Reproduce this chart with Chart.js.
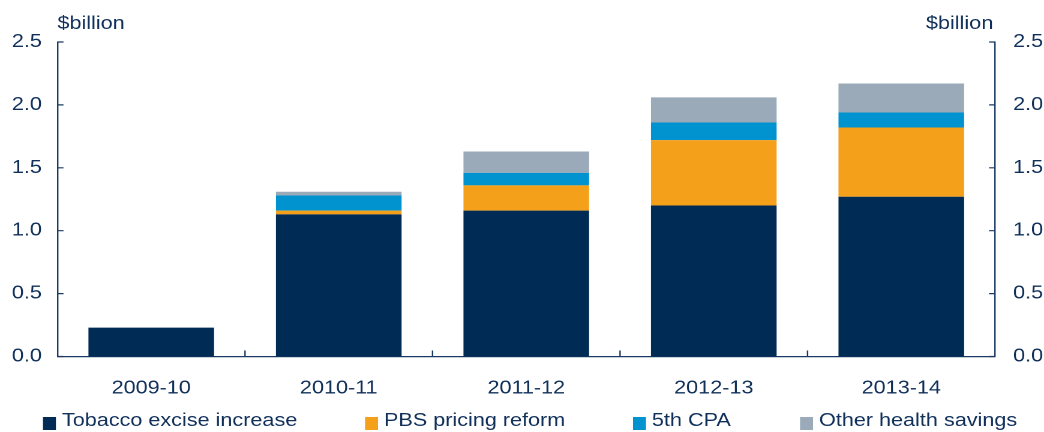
<!DOCTYPE html>
<html>
<head>
<meta charset="utf-8">
<script src="https://cdn.jsdelivr.net/npm/chart.js@4.4.1/dist/chart.umd.min.js"></script>
<style>
  html, body { margin: 0; padding: 0; background: #ffffff; overflow: hidden; }
  #wrap { width: 1044px; height: 432px; overflow: hidden; }
  #c { transform: scaleX(1.2); transform-origin: 0 0; }
</style>
</head>
<body>
<div id="wrap"><canvas id="c" width="870" height="432"></canvas></div>
<script>
const categories = ['2009-10', '2010-11', '2011-12', '2012-13', '2013-14'];
const tobacco = [0.23, 1.13, 1.16, 1.20, 1.27];
const pbs = [0, 0.03, 0.20, 0.52, 0.55];
const cpa = [0, 0.12, 0.10, 0.14, 0.12];
const other = [0, 0.03, 0.17, 0.20, 0.23];
const seriesNames = ['Tobacco excise increase', 'PBS pricing reform', '5th CPA', 'Other health savings'];
const seriesColors = ['#002b54', '#f5a01a', '#0093d0', '#9aaab9'];
const unitLabel = '$billion';
const yMin = 0, yMax = 2.5, yStep = 0.5;

const TEXT = '#10305a';
const AXIS = '#1b3a63';
const FONT = { family: "'Liberation Sans', Arial, Helvetica, sans-serif", size: 18 };

const innerTicks = {
  id: 'innerTicks',
  afterDraw(chart) {
    const ctx = chart.ctx;
    const a = chart.chartArea;
    const y = chart.scales.y;
    const x = chart.scales.x;
    ctx.save();
    ctx.strokeStyle = AXIS;
    ctx.lineWidth = 1.2;
    ctx.beginPath();
    y.ticks.forEach(t => {
      const py = y.getPixelForValue(t.value);
      ctx.moveTo(a.left, py); ctx.lineTo(a.left + 5, py);
      ctx.moveTo(a.right, py); ctx.lineTo(a.right - 5, py);
    });
    const n = categories.length;
    for (let i = 1; i < n; i++) {
      const px = (x.getPixelForValue(i - 1) + x.getPixelForValue(i)) / 2;
      ctx.moveTo(px, a.bottom); ctx.lineTo(px, a.bottom - 6);
    }
    ctx.stroke();
    // unit labels
    ctx.fillStyle = TEXT;
    ctx.font = `${FONT.size}px ${FONT.family}`;
    ctx.textBaseline = 'alphabetic';
    ctx.textAlign = 'left';
    ctx.fillText(unitLabel, a.left, 29);
    ctx.textAlign = 'right';
    ctx.fillText(unitLabel, a.right - 1.5, 29);
    // legend
    const lx = [35.8, 304.2, 527.5, 666.7];
    ctx.textAlign = 'left';
    seriesNames.forEach((name, i) => {
      ctx.fillStyle = seriesColors[i];
      ctx.fillRect(lx[i], 417, 10.8, 13);
      ctx.fillStyle = TEXT;
      ctx.fillText(name, lx[i] + 15.8, 426);
    });
    ctx.restore();
  }
};

const datasets = [tobacco, pbs, cpa, other].map((d, i) => ({
  label: seriesNames[i],
  data: d,
  backgroundColor: seriesColors[i],
  borderWidth: 0,
  barPercentage: 0.67,
  categoryPercentage: 1.0,
  yAxisID: 'y'
}));

new Chart(document.getElementById('c'), {
  type: 'bar',
  data: { labels: categories, datasets },
  options: {
    responsive: false,
    animation: false,
    devicePixelRatio: 2,
    layout: { padding: { top: 42, left: 0, right: 0, bottom: 0 } },
    plugins: { legend: { display: false }, tooltip: { enabled: false } },
    scales: {
      x: {
        stacked: true,
        grid: { display: false, drawTicks: false },
        border: { display: true, color: AXIS, width: 1.3 },
        ticks: { color: TEXT, font: FONT, padding: 21, maxRotation: 0 },
        afterFit(s) { s.height = 75.5; }
      },
      y: {
        stacked: true,
        position: 'left',
        min: yMin, max: yMax,
        grid: { display: false, drawTicks: false },
        border: { display: true, color: AXIS, width: 1.2 },
        ticks: { stepSize: yStep, color: TEXT, font: FONT, padding: 13, callback: v => Number(v).toFixed(1) },
        afterFit(s) { s.width = 47.9; }
      },
      y2: {
        position: 'right',
        min: yMin, max: yMax,
        grid: { display: false, drawTicks: false },
        border: { display: true, color: AXIS, width: 1.2 },
        ticks: { stepSize: yStep, color: TEXT, font: FONT, padding: 15, callback: v => Number(v).toFixed(1) },
        afterFit(s) { s.width = 40.8; }
      }
    }
  },
  plugins: [innerTicks]
});
</script>
</body>
</html>
